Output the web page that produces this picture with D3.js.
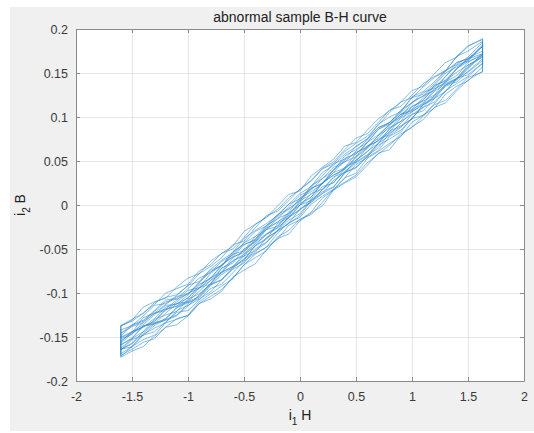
<!DOCTYPE html>
<html>
<head>
<meta charset="utf-8">
<script src="https://cdn.jsdelivr.net/npm/d3@7"></script>
<style>
	html, body { margin: 0; padding: 0; background: #fff; }
	svg { display: block; font-family: "Liberation Sans", Arial, sans-serif; }
</style>
</head>
<body>
<svg id="chart" width="534" height="433"></svg>
<script>
// field strength samples shared by every loop (i1 H)
var hValues = [-1.6,-1.5,-1.4,-1.3,-1.2,-1.1,-1.0,-0.9,-0.8,-0.7,-0.6,-0.5,-0.4,-0.3,-0.2,-0.1,0,
	0.1,0.2,0.3,0.4,0.5,0.6,0.7,0.8,0.9,1.0,1.1,1.2,1.3,1.4,1.5,1.63];

// each loop: rising branch (lower) and falling branch (upper), listed left to right
var loop1Up    = [-0.173,-0.166,-0.161,-0.149,-0.139,-0.136,-0.126,-0.112,-0.107,-0.098,-0.082,-0.074,-0.067,-0.051,-0.038,-0.033,-0.018,-0.009,-0.001,0.017,0.025,0.032,0.045,0.059,0.063,0.079,0.089,0.097,0.111,0.116,0.130,0.142,0.152];
var loop1Down  = [-0.164,-0.158,-0.146,-0.135,-0.131,-0.126,-0.112,-0.104,-0.091,-0.085,-0.071,-0.058,-0.052,-0.043,-0.029,-0.017,-0.010,0.006,0.015,0.021,0.036,0.048,0.056,0.065,0.082,0.089,0.098,0.114,0.121,0.129,0.144,0.151,0.164];
var loop2Up    = [-0.172,-0.161,-0.153,-0.148,-0.134,-0.130,-0.125,-0.110,-0.101,-0.092,-0.084,-0.068,-0.056,-0.048,-0.039,-0.023,-0.017,-0.008,0.008,0.017,0.031,0.036,0.053,0.061,0.070,0.078,0.094,0.102,0.110,0.126,0.135,0.141,0.157];
var loop2Down  = [-0.159,-0.152,-0.144,-0.130,-0.125,-0.121,-0.107,-0.101,-0.090,-0.077,-0.070,-0.062,-0.046,-0.033,-0.026,-0.015,0.000,0.005,0.017,0.032,0.037,0.051,0.061,0.070,0.087,0.095,0.103,0.111,0.124,0.136,0.144,0.159,0.168];
var loop3Up    = [-0.169,-0.161,-0.148,-0.144,-0.133,-0.122,-0.120,-0.108,-0.095,-0.090,-0.077,-0.064,-0.055,-0.048,-0.032,-0.020,-0.014,0.001,0.010,0.018,0.031,0.046,0.054,0.062,0.078,0.085,0.098,0.102,0.115,0.130,0.138,0.146,0.161];
var loop3Down  = [-0.157,-0.146,-0.138,-0.133,-0.119,-0.115,-0.105,-0.094,-0.090,-0.072,-0.064,-0.056,-0.042,-0.028,-0.024,-0.011,0.002,0.009,0.025,0.034,0.040,0.054,0.067,0.073,0.086,0.101,0.108,0.116,0.131,0.140,0.147,0.162,0.172];
var loop4Up    = [-0.165,-0.153,-0.148,-0.137,-0.130,-0.125,-0.115,-0.102,-0.090,-0.085,-0.072,-0.061,-0.054,-0.037,-0.030,-0.021,-0.004,0.003,0.013,0.028,0.037,0.042,0.055,0.070,0.079,0.088,0.103,0.107,0.121,0.135,0.140,0.152,0.166];
var loop4Down  = [-0.152,-0.147,-0.133,-0.123,-0.120,-0.110,-0.100,-0.095,-0.083,-0.070,-0.056,-0.052,-0.036,-0.028,-0.015,-0.010,0.003,0.019,0.024,0.037,0.051,0.060,0.065,0.079,0.092,0.103,0.109,0.122,0.136,0.141,0.155,0.167,0.175];
var loop5Up    = [-0.163,-0.152,-0.138,-0.135,-0.129,-0.116,-0.110,-0.104,-0.089,-0.076,-0.070,-0.056,-0.047,-0.039,-0.021,-0.014,-0.006,0.007,0.021,0.025,0.042,0.051,0.060,0.075,0.080,0.093,0.106,0.114,0.124,0.137,0.143,0.157,0.171];
var loop5Down  = [-0.149,-0.137,-0.132,-0.121,-0.110,-0.107,-0.101,-0.088,-0.076,-0.069,-0.053,-0.045,-0.039,-0.024,-0.011,-0.004,0.005,0.022,0.030,0.039,0.056,0.063,0.071,0.086,0.094,0.105,0.117,0.124,0.136,0.150,0.157,0.164,0.182];
var loop6Up    = [-0.155,-0.145,-0.138,-0.132,-0.118,-0.115,-0.109,-0.094,-0.086,-0.072,-0.066,-0.050,-0.042,-0.033,-0.024,-0.009,0.000,0.009,0.025,0.034,0.041,0.055,0.064,0.079,0.088,0.095,0.112,0.118,0.125,0.141,0.151,0.159,0.168];
var loop6Down  = [-0.142,-0.137,-0.126,-0.114,-0.112,-0.103,-0.091,-0.087,-0.073,-0.063,-0.054,-0.038,-0.029,-0.021,-0.012,0.001,0.013,0.021,0.037,0.045,0.058,0.066,0.075,0.092,0.100,0.106,0.123,0.129,0.140,0.153,0.160,0.168,0.185];
var loop7Up    = [-0.150,-0.144,-0.136,-0.125,-0.114,-0.113,-0.102,-0.090,-0.084,-0.068,-0.059,-0.054,-0.039,-0.026,-0.020,-0.008,0.008,0.015,0.024,0.040,0.049,0.055,0.071,0.080,0.091,0.103,0.112,0.119,0.135,0.142,0.155,0.166,0.172];
var loop7Down  = [-0.137,-0.132,-0.123,-0.111,-0.105,-0.102,-0.092,-0.078,-0.070,-0.060,-0.045,-0.041,-0.026,-0.012,-0.007,0.005,0.018,0.027,0.041,0.047,0.061,0.070,0.078,0.091,0.105,0.117,0.122,0.134,0.145,0.152,0.169,0.175,0.186];
var loop8Up    = [-0.146,-0.138,-0.134,-0.123,-0.113,-0.104,-0.101,-0.088,-0.074,-0.069,-0.055,-0.043,-0.036,-0.023,-0.016,-0.002,0.011,0.017,0.030,0.043,0.049,0.061,0.074,0.088,0.093,0.108,0.116,0.128,0.133,0.146,0.162,0.166,0.180];
var loop8Down  = [-0.138,-0.131,-0.116,-0.110,-0.106,-0.093,-0.083,-0.078,-0.064,-0.055,-0.047,-0.030,-0.022,-0.014,-0.001,0.012,0.016,0.033,0.043,0.052,0.067,0.071,0.085,0.098,0.107,0.117,0.130,0.135,0.149,0.162,0.168,0.180,0.189];
var loop9Up    = [-0.171,-0.164,-0.156,-0.152,-0.139,-0.129,-0.126,-0.112,-0.104,-0.096,-0.083,-0.068,-0.060,-0.052,-0.036,-0.029,-0.016,-0.011,0.003,0.018,0.026,0.034,0.048,0.058,0.068,0.081,0.088,0.101,0.114,0.119,0.132,0.145,0.151];
var loop9Down  = [-0.164,-0.157,-0.144,-0.134,-0.130,-0.117,-0.111,-0.106,-0.092,-0.079,-0.071,-0.063,-0.046,-0.038,-0.029,-0.013,-0.005,0.003,0.018,0.026,0.038,0.049,0.057,0.070,0.084,0.090,0.098,0.114,0.122,0.136,0.142,0.155,0.170];
var loop10Up   = [-0.164,-0.161,-0.147,-0.140,-0.134,-0.120,-0.114,-0.107,-0.099,-0.085,-0.073,-0.066,-0.050,-0.042,-0.029,-0.021,-0.012,0.005,0.013,0.020,0.037,0.043,0.055,0.068,0.075,0.083,0.099,0.111,0.117,0.129,0.144,0.148,0.161];
var loop10Down = [-0.155,-0.144,-0.139,-0.129,-0.116,-0.112,-0.106,-0.091,-0.083,-0.076,-0.060,-0.052,-0.041,-0.028,-0.019,-0.012,0.005,0.012,0.025,0.037,0.042,0.059,0.067,0.076,0.090,0.103,0.107,0.120,0.132,0.139,0.155,0.163,0.170];
var loop11Up   = [-0.159,-0.151,-0.137,-0.135,-0.123,-0.112,-0.110,-0.098,-0.086,-0.077,-0.063,-0.058,-0.044,-0.034,-0.026,-0.014,0.000,0.013,0.018,0.031,0.043,0.049,0.066,0.073,0.083,0.099,0.106,0.115,0.129,0.138,0.144,0.156,0.172];
var loop11Down = [-0.146,-0.136,-0.131,-0.120,-0.108,-0.106,-0.095,-0.083,-0.077,-0.064,-0.057,-0.043,-0.030,-0.024,-0.011,0.001,0.007,0.020,0.033,0.047,0.052,0.067,0.075,0.088,0.094,0.106,0.122,0.126,0.138,0.152,0.162,0.166,0.181];
var loop12Up   = [-0.151,-0.145,-0.128,-0.123,-0.118,-0.108,-0.097,-0.094,-0.078,-0.068,-0.059,-0.045,-0.040,-0.026,-0.013,-0.005,0.006,0.019,0.025,0.040,0.053,0.058,0.071,0.086,0.092,0.100,0.116,0.124,0.130,0.146,0.159,0.164,0.180];
var loop12Down = [-0.137,-0.130,-0.123,-0.113,-0.100,-0.095,-0.090,-0.075,-0.068,-0.055,-0.050,-0.037,-0.022,-0.014,-0.005,0.008,0.018,0.028,0.042,0.049,0.063,0.076,0.081,0.094,0.108,0.112,0.125,0.138,0.146,0.153,0.169,0.181,0.188];

var loops = [
	[loop1Up, loop1Down], [loop2Up, loop2Down], [loop3Up, loop3Down], [loop4Up, loop4Down],
	[loop5Up, loop5Down], [loop6Up, loop6Down], [loop7Up, loop7Down], [loop8Up, loop8Down],
	[loop9Up, loop9Down], [loop10Up, loop10Down], [loop11Up, loop11Down], [loop12Up, loop12Down]
];

var xTicks = [-2, -1.5, -1, -0.5, 0, 0.5, 1, 1.5, 2];
var yTicks = [-0.2, -0.15, -0.1, -0.05, 0, 0.05, 0.1, 0.15, 0.2];
var titleText = 'abnormal sample B-H curve';

var plotLeft = 76, plotRight = 524, plotTop = 29, plotBottom = 381;

var svg = d3.select('#chart');

// figure background (grey panel, white strip on the left/top)
svg.append('rect').attr('x', 10).attr('y', 7).attr('width', 524).attr('height', 424).style('fill', '#f0f0f0');
svg.append('rect').attr('x', plotLeft).attr('y', plotTop).attr('width', plotRight - plotLeft).attr('height', plotBottom - plotTop).style('fill', '#fff');

var x = d3.scaleLinear().domain([-2, 2]).range([plotLeft, plotRight]);
var y = d3.scaleLinear().domain([-0.2, 0.2]).range([plotBottom, plotTop]);

// grid
svg.append('g').selectAll('line').data(xTicks.slice(1, -1)).join('line')
	.attr('x1', d => x(d)).attr('x2', d => x(d)).attr('y1', plotTop).attr('y2', plotBottom)
	.style('stroke', '#e6e6e6').style('stroke-width', 1).attr('shape-rendering', 'crispEdges');
svg.append('g').selectAll('line').data(yTicks.slice(1, -1)).join('line')
	.attr('y1', d => y(d)).attr('y2', d => y(d)).attr('x1', plotLeft).attr('x2', plotRight)
	.style('stroke', '#e6e6e6').style('stroke-width', 1).attr('shape-rendering', 'crispEdges');

// loops
var line = d3.line().x(d => x(d[0])).y(d => y(d[1]));
svg.append('g').selectAll('path').data(loops).join('path')
	.attr('d', d => {
		let pts = hValues.map((h, i) => [h, d[0][i]]);
		let back = hValues.map((h, i) => [h, d[1][i]]).reverse();
		return line(pts.concat(back)) + 'Z';
	})
	.style('fill', 'none')
	.style('stroke', '#2a86cf')
	.style('stroke-width', 0.7)
	.style('stroke-opacity', 0.8);

// axes (ticks inward, box on)
var fmt = d => String(+d.toFixed(2));
svg.append('g').attr('transform', 'translate(0,' + plotBottom + ')')
	.call(d3.axisBottom(x).tickValues(xTicks).tickSizeInner(-4).tickSizeOuter(0).tickPadding(11).tickFormat(fmt));
svg.append('g').attr('transform', 'translate(' + plotLeft + ',0)')
	.call(d3.axisLeft(y).tickValues(yTicks).tickSizeInner(-4).tickSizeOuter(0).tickPadding(8).tickFormat(fmt));
svg.append('g').attr('transform', 'translate(0,' + plotTop + ')')
	.call(d3.axisTop(x).tickValues(xTicks).tickSizeInner(-4).tickSizeOuter(0).tickFormat(''));
svg.append('g').attr('transform', 'translate(' + plotRight + ',0)')
	.call(d3.axisRight(y).tickValues(yTicks).tickSizeInner(-4).tickSizeOuter(0).tickFormat(''));
svg.selectAll('.domain, .tick line').style('stroke', '#8a8a8a');
svg.selectAll('.tick text').style('fill', '#3a3a3a').style('font-size', '12.5px').style('font-family', '"Liberation Sans", Arial, sans-serif');

// title and labels
svg.append('text').attr('x', 300).attr('y', 22).attr('text-anchor', 'middle')
	.style('font-size', '14px').style('fill', '#222').text(titleText);

var xl = svg.append('text').attr('x', 300).attr('y', 420).attr('text-anchor', 'middle')
	.style('font-size', '14px').style('fill', '#222');
xl.append('tspan').text('i');
xl.append('tspan').attr('dy', 5).style('font-size', '10px').text('1');
xl.append('tspan').attr('dy', -5).text(' H');

var yl = svg.append('text').attr('transform', 'translate(25,205) rotate(-90)').attr('text-anchor', 'middle')
	.style('font-size', '14px').style('fill', '#222');
yl.append('tspan').text('i');
yl.append('tspan').attr('dy', 5).style('font-size', '10px').text('2');
yl.append('tspan').attr('dy', -5).text(' B');
</script>
</body>
</html>
